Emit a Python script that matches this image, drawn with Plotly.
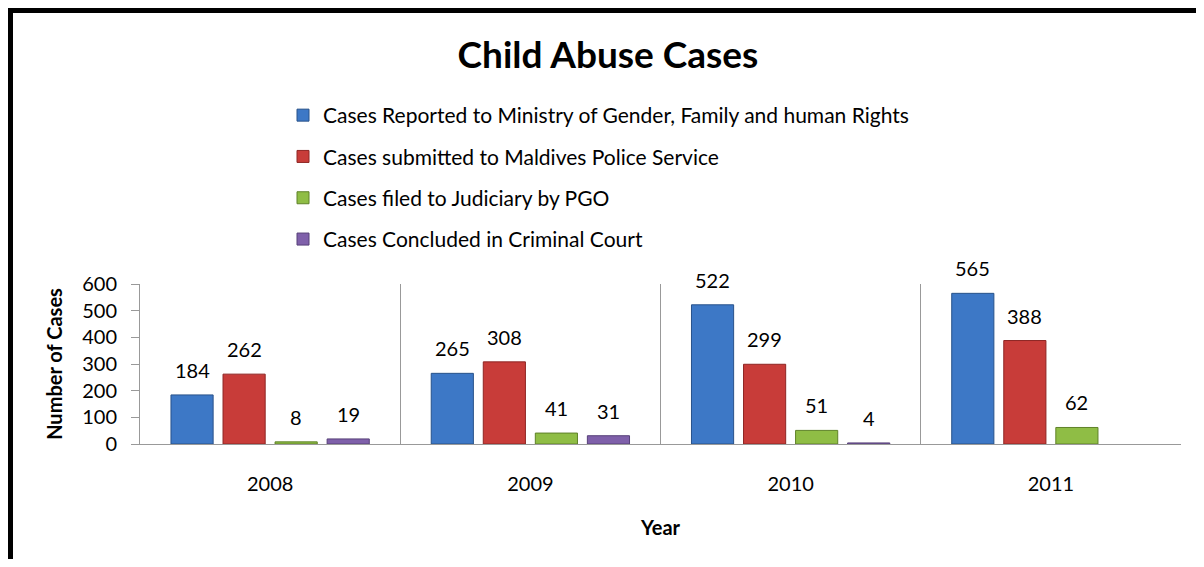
import plotly.graph_objects as go

years = ["2008", "2009", "2010", "2011"]
series_names = [
    "Cases Reported to Ministry of Gender, Family and human Rights",
    "Cases submitted to Maldives Police Service",
    "Cases filed to Judiciary by PGO",
    "Cases Concluded in Criminal Court",
]
reported = [184, 265, 522, 565]
police = [262, 308, 299, 388]
judiciary = [8, 41, 51, 62]
concluded = [19, 31, 4, None]
y_ticks = [0, 100, 200, 300, 400, 500, 600]

series_values = [reported, police, judiciary, concluded]
fills = ["#3d78c6", "#c83c39", "#8fbd45", "#7f60aa"]
lines = ["#28528a", "#8e2624", "#5f8228", "#574079"]

OFF = 8  # page body margin
W, H = 1204 - 2 * OFF, 567 - 2 * OFF
L = 140 - OFF
R = W - (1181 - OFF)
T = 284 - OFF
B = H - (444 - OFF)
pw, ph = W - L - R, H - T - B

def px(sx):
    return (sx - OFF - L) / pw

def py(sy):
    return (H - B - (sy - OFF)) / ph

FONT = "Lato"
fig = go.Figure()
for i, (name, vals) in enumerate(zip(series_names, series_values)):
    fig.add_trace(go.Bar(
        x=years, y=vals, name=name,
        marker=dict(color=fills[i], line=dict(color=lines[i], width=1)),
        legendgroup=f"g{i}",
    ))

# value labels
slot = pw / 4 * 0.8 / 4
for i, vals in enumerate(series_values):
    for j, v in enumerate(vals):
        if v is None:
            continue
        fig.add_annotation(
            x=j, y=v, xref="x", yref="y", text=str(v), showarrow=False,
            xshift=(i - 1.5) * slot, yshift=11, yanchor="bottom",
            font=dict(family=FONT, size=20, color="#000"),
        )

shapes = [
    dict(type="line", xref="paper", yref="paper", x0=px(8), x1=px(1204), y0=py(10.5), y1=py(10.5),
         line=dict(color="#000", width=5)),
    dict(type="line", xref="paper", yref="paper", x0=px(10.5), x1=px(10.5), y0=py(8), y1=py(567),
         line=dict(color="#000", width=5)),
]

fig.update_layout(
    width=W, height=H,
    margin=dict(l=L, r=R, t=T, b=B),
    paper_bgcolor="white", plot_bgcolor="white",
    barmode="group", bargap=0.2, bargroupgap=0.19,
    title=dict(text="<b>Child Abuse Cases</b>", x=px(608), xref="paper", xanchor="center",
               y=1 - (55 - OFF) / H, yanchor="middle",
               font=dict(family=FONT, size=37, color="#000")),
    legend=dict(x=px(283), y=py(95), xanchor="left", yanchor="top",
                font=dict(family=FONT, size=21, color="#000"),
                tracegroupgap=11, traceorder="grouped", bgcolor="rgba(0,0,0,0)"),
    showlegend=True,
    shapes=shapes,
    xaxis=dict(
        type="category", tickson="boundaries", showgrid=True, gridcolor="#999", gridwidth=1,
        showline=True, linecolor="#999", linewidth=1, ticks="", ticklabelstandoff=22,
        tickfont=dict(family=FONT, size=20, color="#000"),
        title=dict(text="<b>Year</b>", font=dict(family=FONT, size=20, color="#000"), standoff=26),
        range=[-0.5, 3.5],
    ),
    yaxis=dict(
        range=[0, 600], tickvals=y_ticks, showgrid=False, zeroline=False,
        showline=True, linecolor="#999", linewidth=1, ticks="outside", ticklen=8, tickcolor="#999",
        ticklabelstandoff=10,
        tickfont=dict(family=FONT, size=20, color="#000"),
        title=dict(text="<b>Number of Cases</b>", font=dict(family=FONT, size=20, color="#000"), standoff=14),
    ),
)

fig.write_html("out.html")
